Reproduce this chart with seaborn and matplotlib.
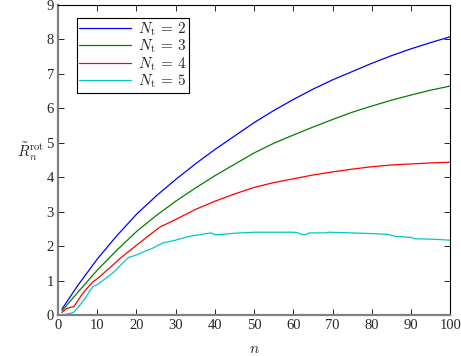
import matplotlib
matplotlib.use("Agg")
import matplotlib.pyplot as plt
import numpy as np
import pandas as pd
import seaborn as sns

# values
n_smooth = [1, 5, 10, 15, 20, 25, 30, 35, 40, 45, 50, 55, 60, 65, 70, 75, 80, 85, 90, 95, 100]
r_nt2 = [0.17, 0.85, 1.62, 2.30, 2.92, 3.45, 3.93, 4.38, 4.80, 5.19, 5.58, 5.93, 6.25,
         6.55, 6.82, 7.06, 7.30, 7.52, 7.72, 7.90, 8.07]
r_nt3 = [0.12, 0.65, 1.30, 1.88, 2.42, 2.88, 3.30, 3.68, 4.04, 4.37, 4.70, 4.98, 5.22,
         5.45, 5.67, 5.88, 6.06, 6.23, 6.38, 6.52, 6.64]

n_nt4 = [1, 2, 3, 4, 5, 6, 7, 8, 9, 10, 12, 14, 16, 18, 20, 22, 24, 26, 28, 30, 35, 40,
         45, 50, 55, 60, 65, 70, 75, 80, 85, 90, 95, 100]
r_nt4 = [0.07, 0.17, 0.22, 0.24, 0.40, 0.58, 0.72, 0.85, 0.97, 1.05, 1.25, 1.45, 1.66,
         1.84, 2.02, 2.20, 2.38, 2.55, 2.66, 2.77, 3.06, 3.30, 3.51, 3.70, 3.84, 3.95,
         4.06, 4.15, 4.23, 4.30, 4.35, 4.38, 4.41, 4.43]

n_nt5 = [1, 2, 3, 4, 5, 6, 7, 8, 9, 10, 12, 14, 16, 18, 20, 22, 24, 26, 27, 28, 30, 33,
         36, 39, 40, 42, 45, 50, 55, 60, 61, 62, 63, 64, 68, 69, 72, 75, 80, 84, 86, 90,
         91, 95, 100]
r_nt5 = [0.00, 0.02, 0.04, 0.08, 0.20, 0.35, 0.50, 0.68, 0.83, 0.88, 1.05, 1.22, 1.45,
         1.67, 1.74, 1.84, 1.93, 2.05, 2.10, 2.12, 2.17, 2.27, 2.33, 2.38, 2.33, 2.34,
         2.37, 2.40, 2.40, 2.40, 2.39, 2.34, 2.33, 2.38, 2.38, 2.40, 2.39, 2.38, 2.36,
         2.34, 2.28, 2.25, 2.21, 2.20, 2.17]

labels = [r"$N_{\rm t}\,=\,2$", r"$N_{\rm t}\,=\,3$", r"$N_{\rm t}\,=\,4$", r"$N_{\rm t}\,=\,5$"]
colors = ["#0000ff", "#008000", "#ff0000", "#00c8c8"]

frames = []
for lab, xs, ys in zip(labels, [n_smooth, n_smooth, n_nt4, n_nt5], [r_nt2, r_nt3, r_nt4, r_nt5]):
    frames.append(pd.DataFrame({"n": xs, "R": ys, "series": lab}))
df = pd.concat(frames, ignore_index=True)

sns.set_style("ticks")
plt.rcParams["font.family"] = ["Liberation Serif", "DejaVu Serif"]
plt.rcParams["mathtext.fontset"] = "cm"

fig = plt.figure(figsize=(4.61, 3.56), dpi=100)
ax = fig.add_axes([0.1258, 0.1152, 0.977 - 0.1258, 0.987 - 0.1152])

sns.lineplot(data=df, x="n", y="R", hue="series", hue_order=labels,
             palette=colors, linewidth=0.9, sort=False, estimator=None, ax=ax)

ax.set_xlim(0, 100)
ax.set_ylim(0, 9)
ax.set_xticks(range(0, 101, 10))
ax.set_yticks(range(0, 10))
ax.tick_params(direction="in", top=True, right=True, labelsize=10.5, length=4,
               width=0.7, pad=3)

for side in ["top", "right"]:
    ax.spines[side].set_visible(True)
    ax.spines[side].set_color("black")
    ax.spines[side].set_linewidth(0.8)
for side in ["left", "bottom"]:
    ax.spines[side].set_color("#808080")
    ax.spines[side].set_linewidth(1.6)

ax.set_xlabel(r"$n$", fontsize=11)
ax.xaxis.set_label_coords(0.5, -0.09)
ax.set_ylabel(r"$\tilde{R}_n^{\mathrm{rot}}$", fontsize=11, rotation=0)
ax.yaxis.set_label_coords(-0.07, 0.49)

leg = ax.legend(loc="upper left", bbox_to_anchor=(0.048, 0.958), fontsize=11,
                fancybox=False, edgecolor="black", framealpha=1, handlelength=3.4,
                borderpad=0.15, labelspacing=0.0, handletextpad=0.45, borderaxespad=0)
leg.get_frame().set_linewidth(0.8)

fig.savefig("out.png", dpi=100)
